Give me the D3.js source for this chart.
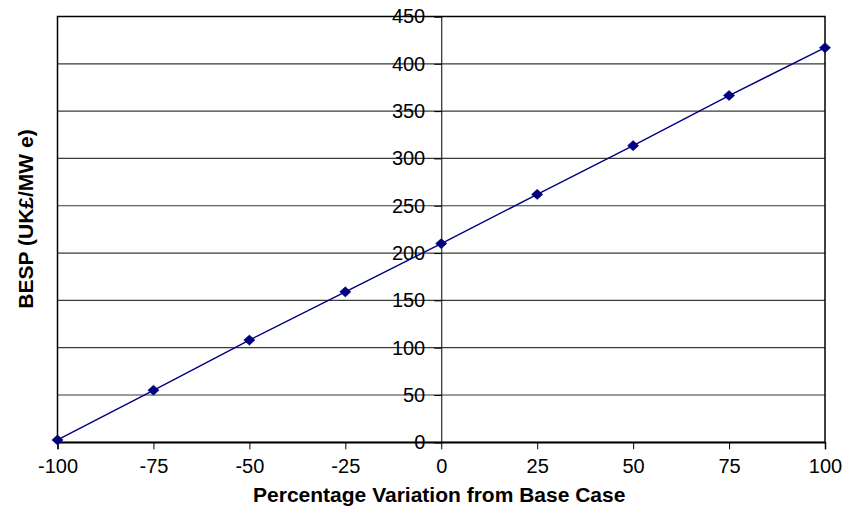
<!DOCTYPE html>
<html><head><meta charset="utf-8">
<script src="https://cdn.jsdelivr.net/npm/d3@7"></script>
<style>
html,body{margin:0;padding:0;background:#fff;}
svg{display:block;}
text{font-family:Arial,"Liberation Sans",sans-serif;fill:#000;}
</style></head>
<body>
<svg id="chart" width="842" height="512"></svg>
<script>
const variation = [-100, -75, -50, -25, 0, 25, 50, 75, 100];
const besp = [2.5, 55, 108, 159, 210, 262, 313.5, 366.5, 417];
const xTicks = [-100, -75, -50, -25, 0, 25, 50, 75, 100];
const yTicks = [0, 50, 100, 150, 200, 250, 300, 350, 400, 450];
const xTitle = "Percentage Variation from Base Case";
const yTitle = "BESP (UK£/MW e)";

const svg = d3.select("#chart");
const L = 57.5, R = 825, T = 16.5, B = 442.3;
const x = d3.scaleLinear().domain([-100, 100]).range([L, R]);
const y = d3.scaleLinear().domain([0, 450]).range([B, T]);

// gridlines
svg.append("g").selectAll("line").data(yTicks).join("line")
  .attr("x1", L).attr("x2", R)
  .attr("y1", d => y(d)).attr("y2", d => y(d))
  .attr("stroke", "#3a3a3a").attr("stroke-width", 1.2);

// plot border
svg.append("rect").attr("x", L).attr("y", T).attr("width", R - L).attr("height", B - T)
  .attr("fill", "none").attr("stroke", "#000").attr("stroke-width", 1.5);

const fmt = d => String(d);

// x axis at y=0
const xAxis = d3.axisBottom(x).tickValues(xTicks).tickSize(7).tickPadding(10).tickFormat(fmt);
const gx = svg.append("g").attr("transform", `translate(0,${y(0)})`).call(xAxis);
gx.select(".domain").attr("stroke", "#000").attr("stroke-width", 1.5);
gx.selectAll(".tick line").attr("stroke", "#000");
gx.selectAll("text").attr("font-size", 20).attr("font-family", "Arial, 'Liberation Sans', sans-serif").attr("fill", "#000");

// y axis at x=0
const yAxis = d3.axisLeft(y).tickValues(yTicks).tickSize(7).tickPadding(9).tickFormat(fmt);
const gy = svg.append("g").attr("transform", `translate(${x(0)},0)`).call(yAxis);
gy.select(".domain").attr("stroke", "#000").attr("stroke-width", 1);
gy.selectAll(".tick line").attr("stroke", "#000");
gy.selectAll("text").attr("font-size", 20).attr("font-family", "Arial, 'Liberation Sans', sans-serif").attr("fill", "#000");

// line
const data = variation.map((v, i) => ({x: v, y: besp[i]}));
svg.append("path").datum(data)
  .attr("fill", "none").attr("stroke", "#000080").attr("stroke-width", 1.4)
  .attr("d", d3.line().x(d => x(d.x)).y(d => y(d.y)));

// markers
svg.append("g").selectAll("path").data(data).join("path")
  .attr("transform", d => `translate(${x(d.x)},${y(d.y)}) scale(1,0.9)`)
  .attr("d", d3.symbol().type(d3.symbolDiamond2).size(80))
  .attr("fill", "#000080").attr("stroke", "#000080").attr("stroke-width", 0.6);

// titles
svg.append("text").attr("x", (L + R) / 2 - 2).attr("y", 501.5)
  .attr("text-anchor", "middle").attr("font-size", 21).attr("font-weight", "bold").text(xTitle);
svg.append("text").attr("transform", `translate(32.5,219) rotate(-90)`)
  .attr("text-anchor", "middle").attr("font-size", 21).attr("font-weight", "bold").text(yTitle);
</script>
</body></html>
